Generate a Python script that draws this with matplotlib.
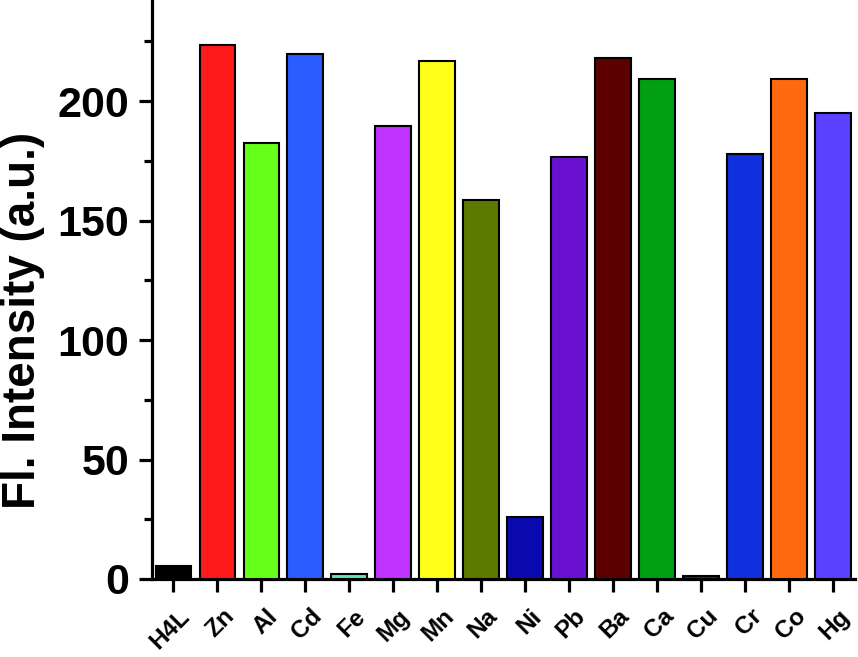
import matplotlib
matplotlib.use("Agg")
import matplotlib.pyplot as plt
import matplotlib.transforms as mtransforms
import numpy as np

categories = ["H4L", "Zn", "Al", "Cd", "Fe", "Mg", "Mn", "Na", "Ni", "Pb",
              "Ba", "Ca", "Cu", "Cr", "Co", "Hg"]
values = [5.4, 223.4, 182.4, 219.7, 2.0, 189.5, 216.7, 158.6, 26.0, 176.6,
          218.0, 209.2, 1.2, 177.8, 209.2, 195.0]
colors = ["#000000", "#ff1a1a", "#66ff1a", "#2a5cff", "#66e0c0", "#c033ff",
          "#ffff1a", "#5c7a00", "#0a0ab0", "#6a10d0", "#5c0000", "#00a012",
          "#1a3a2a", "#1030e0", "#ff6a10", "#5a40ff"]
yticks = [0, 50, 100, 150, 200]

plt.rcParams['font.family'] = ['Liberation Sans', 'DejaVu Sans']
plt.rcParams['font.weight'] = 'bold'

fig = plt.figure(figsize=(8.58, 6.57), dpi=100)
ax = fig.add_axes([152/858, 1 - 579/657, (855-152)/858, 579/657])

x = np.arange(len(categories))
ax.bar(x, values, width=0.8, color=colors, edgecolor="black", linewidth=1.5, zorder=3)

ax.set_xlim(-0.48, len(categories) - 0.5)
ax.set_ylim(0, 242.3)

for s in ["top", "right"]:
    ax.spines[s].set_visible(False)
for s in ["left", "bottom"]:
    ax.spines[s].set_linewidth(2.3)

ax.set_yticks(yticks)
ax.set_yticks(np.arange(25, 242, 50), minor=True)
ax.tick_params(axis='y', which='major', length=9.5, width=2.3, labelsize=31, pad=7)
ax.tick_params(axis='y', which='minor', length=6, width=2.3)
ax.set_xticks(x)
ax.set_xticklabels(categories, rotation=45, ha='right', rotation_mode='anchor',
                   fontsize=17.5, fontweight='bold')
ax.tick_params(axis='x', which='major', length=9.5, width=2.3, pad=9)
offset = mtransforms.ScaledTranslation(5/100, 0, fig.dpi_scale_trans)
for lab in ax.get_xticklabels():
    lab.set_transform(lab.get_transform() + offset)
for lab in ax.get_yticklabels():
    lab.set_fontweight('bold')

ax.set_ylabel("Fl. Intensity (a.u.)", fontsize=33, fontweight='bold')
ax.yaxis.set_label_coords(-0.152, 0.447)

fig.savefig("out.png", dpi=100)
